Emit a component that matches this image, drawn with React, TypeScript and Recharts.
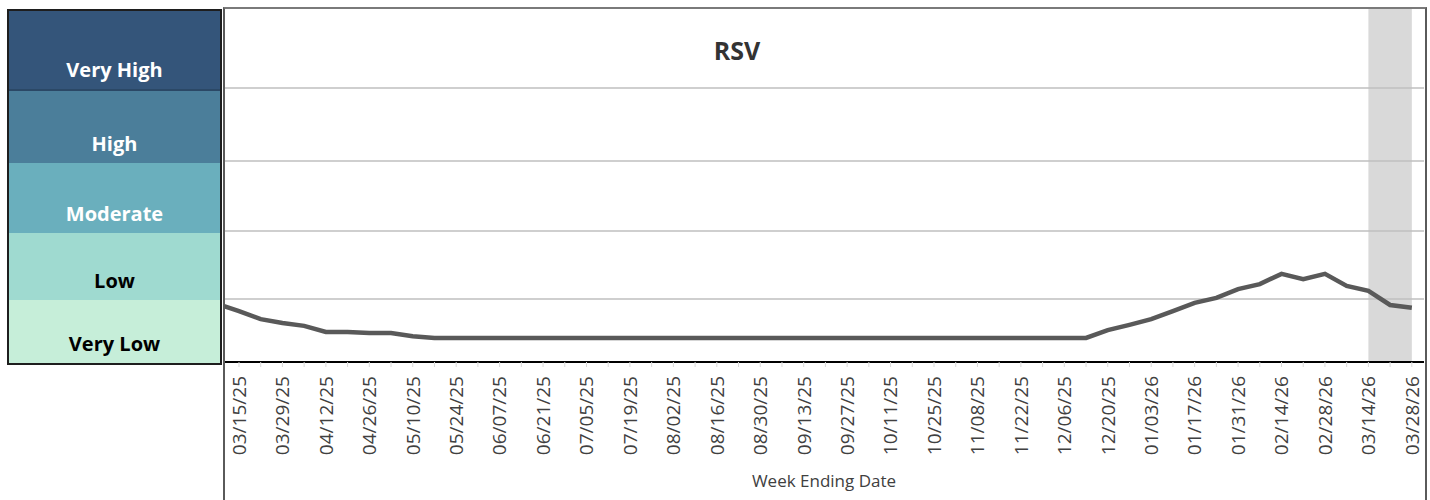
import { LineChart, Line, XAxis, YAxis, ReferenceArea, ReferenceLine, Label } from 'recharts';

// week ending dates (first one sits just left of the plot and gets clipped)
const weekEnding = [
  '03/08/25', '03/15/25', '03/22/25', '03/29/25', '04/05/25', '04/12/25', '04/19/25', '04/26/25',
  '05/03/25', '05/10/25', '05/17/25', '05/24/25', '05/31/25', '06/07/25', '06/14/25', '06/21/25',
  '06/28/25', '07/05/25', '07/12/25', '07/19/25', '07/26/25', '08/02/25', '08/09/25', '08/16/25',
  '08/23/25', '08/30/25', '09/06/25', '09/13/25', '09/20/25', '09/27/25', '10/04/25', '10/11/25',
  '10/18/25', '10/25/25', '11/01/25', '11/08/25', '11/15/25', '11/22/25', '11/29/25', '12/06/25',
  '12/13/25', '12/20/25', '12/27/25', '01/03/26', '01/10/26', '01/17/26', '01/24/26', '01/31/26',
  '02/07/26', '02/14/26', '02/21/26', '02/28/26', '03/07/26', '03/14/26', '03/21/26', '03/28/26',
];

const rsvLevel = [
  1.64, 1.44, 1.21, 1.1, 1.02, 0.85, 0.85, 0.82, 0.82, 0.73,
  0.68, 0.68, 0.68, 0.68, 0.68, 0.68, 0.68, 0.68, 0.68, 0.68,
  0.68, 0.68, 0.68, 0.68, 0.68, 0.68, 0.68, 0.68, 0.68, 0.68,
  0.68, 0.68, 0.68, 0.68, 0.68, 0.68, 0.68, 0.68, 0.68, 0.68,
  0.68, 0.9, 1.05, 1.21, 1.44, 1.67, 1.81, 2.06, 2.2, 2.49,
  2.34, 2.49, 2.15, 2.01, 1.61, 1.53,
];

// activity levels, bottom to top
const levelNames = ['Very Low', 'Low', 'Moderate', 'High', 'Very High'];
const levelEdges = [0, 1.78, 3.7, 5.68, 7.74, 10];
const levelColors = ['#c6eed9', '#9fdad0', '#6aafbd', '#4b7e9a', '#34557a'];
const levelText = ['#000000', '#000000', '#ffffff', '#ffffff', '#ffffff'];

const shadeFrom = '03/14/26';
const shadeTo = '03/28/26';

const data = weekEnding.map((week, k) => ({ k, week, level: rsvLevel[k] }));
const tickIdx = weekEnding.map((_, k) => k).filter((k) => k > 0);

const FONT = '"Open Sans", "DejaVu Sans", sans-serif';

const DateTick = (props: any) => {
  const { x, y, payload } = props;
  const k = payload.value;
  if (k % 2 !== 1) return null;
  const ty = y + 5;
  return (
    <text
      x={x}
      y={ty}
      transform={`rotate(-90, ${x}, ${ty})`}
      textAnchor="end"
      dy="0.36em"
      fontSize={19}
      fontFamily={FONT}
      fill="#404040"
    >
      {weekEnding[k]}
    </text>
  );
};

const LevelPanel = () => {
  const inner = 352;
  const top = levelEdges[levelEdges.length - 1];
  const rows = levelNames.map((name, i) => ({
    name,
    h: ((levelEdges[i + 1] - levelEdges[i]) / top) * inner,
    bg: levelColors[i],
    fg: levelText[i],
  })).reverse();
  return (
    <div
      style={{
        position: 'absolute',
        left: 7,
        top: 9,
        width: 211,
        border: '2px solid #1e1e1e',
        fontFamily: FONT,
      }}
    >
      {rows.map((r, i) => (
        <div
          key={r.name}
          style={{
            height: r.h,
            background: r.bg,
            color: r.fg,
            display: 'flex',
            alignItems: 'flex-end',
            justifyContent: 'center',
            fontWeight: 700,
            fontSize: 20,
            boxSizing: 'border-box',
            paddingBottom: 6,
            borderBottom: i === 0 ? '2px solid #2b4866' : 'none',
          }}
        >
          {r.name}
        </div>
      ))}
    </div>
  );
};

export default function App() {
  return (
    <div style={{ position: 'absolute', left: 0, top: 0, width: 1430, height: 500, background: '#fff' }}>
      <LevelPanel />
      <LineChart
        width={1430}
        height={500}
        data={data}
        margin={{ top: 8, right: 6, left: 224, bottom: 0 }}
      >
        <XAxis
          dataKey="k"
          type="number"
          domain={[0.31, 55.56]}
          allowDataOverflow
          ticks={tickIdx}
          interval={0}
          height={138}
          tick={<DateTick />}
          tickSize={5}
          tickMargin={4}
          tickLine={{ stroke: '#d9d9d9' }}
          axisLine={{ stroke: '#000', strokeWidth: 2 }}
        >
          <Label
            value="Week Ending Date"
            position="insideBottom"
            offset={13}
            fontSize={17}
            fontFamily={FONT}
            fill="#404040"
          />
        </XAxis>
        <YAxis hide type="number" domain={[levelEdges[0], levelEdges[levelEdges.length - 1]]} />
        <ReferenceArea
          x1={weekEnding.indexOf(shadeFrom)}
          x2={weekEnding.indexOf(shadeTo)}
          fill="#d9d9d9"
          fillOpacity={1}
          stroke="none"
        />
        {levelEdges.slice(1, -1).map((v) => (
          <ReferenceLine key={v} y={v} stroke="#bfbfbf" strokeWidth={1.5} />
        ))}
        <Line
          dataKey="level"
          type="linear"
          stroke="#595959"
          strokeWidth={4.5}
          dot={false}
          isAnimationActive={false}
        />
      </LineChart>
      <div
        style={{
          position: 'absolute',
          left: 223,
          top: 7,
          width: 1200,
          height: 493,
          borderTop: '2px solid #7a7a7a',
          borderLeft: '2px solid #5a5a5a',
          borderRight: '2px solid #5a5a5a',
          pointerEvents: 'none',
        }}
      />
      <div
        style={{
          position: 'absolute',
          left: 700,
          top: 33,
          width: 74,
          textAlign: 'center',
          fontFamily: FONT,
          fontWeight: 700,
          fontSize: 25,
          color: '#333',
        }}
      >
        RSV
      </div>
    </div>
  );
}
